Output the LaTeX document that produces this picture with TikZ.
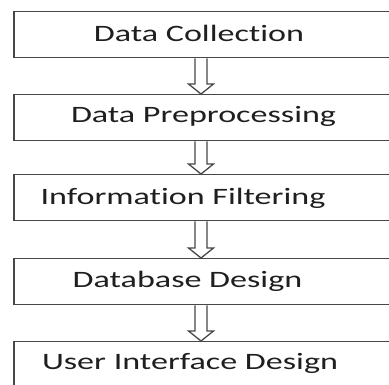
\documentclass[tikz,border=0pt]{standalone}
\usepackage{fontspec}
\usepackage{graphicx}
\setmainfont{Carlito}[Ligatures={NoCommon}]
\usetikzlibrary{calc}

\tikzset{
  stage/.style={draw=black!72, line width=1.5pt, rectangle, inner sep=0pt,
    fill=white},
  stagetext/.style={anchor=base, inner sep=0pt, text=black!88,
    font=\fontsize{23.5}{26}\selectfont},
  flowarrow/.style={draw=black!72, line width=1.3pt, fill=white,
    line join=miter},
}
\newcommand{\wide}[1]{\scalebox{1.45}[1]{#1}}

\begin{document}
\begin{tikzpicture}[x=1pt,y=-1pt]
  \useasboundingbox (0,0) rectangle (389,385);
  \clip (0,0) rectangle (389,385);
  \fill[white] (0,0) rectangle (389,385);

  % column of the connecting arrows
  \coordinate (ax) at (201,0);

  % stage boxes (they run past the right edge)
  \node[stage, minimum width=390pt, minimum height=46pt, anchor=north west] (b1) at (13,11) {};
  \node[stage, minimum width=390pt, minimum height=46pt, anchor=north west] (b2) at (13,94) {};
  \node[stage, minimum width=390pt, minimum height=46pt, anchor=north west] (b3) at (13,174) {};
  \node[stage, minimum width=390pt, minimum height=46pt, anchor=north west] (b4) at (13,258) {};
  \node[stage, minimum width=390pt, minimum height=60pt, anchor=north west] (b5) at (13,341) {};

  % stage labels
  \node[stagetext] (t1) at (199,42)   {\wide{Data Collection}};
  \node[stagetext] (t2) at (203.5,123) {\wide{Data Preprocessing}};
  \node[stagetext] (t3) at (183,205)  {\wide{Information Filtering}};
  \node[stagetext] (t4) at (187.5,288) {\wide{Database Design}};
  \node[stagetext] (t5) at (190,370)  {\wide{User Interface Design}};

  % hollow block arrows between consecutive stages
  \foreach \a/\b in {b1/b2, b2/b3, b3/b4, b4/b5}{
    \coordinate (s) at (\a.south -| ax);
    \coordinate (e) at (\b.north -| ax);
    \draw[flowarrow]
      ([xshift=-6pt]s) -- ([xshift=-6pt,yshift=10pt]e)
      -- ([xshift=-12.5pt,yshift=10pt]e) -- (e)
      -- ([xshift=12.5pt,yshift=10pt]e) -- ([xshift=6pt,yshift=10pt]e)
      -- ([xshift=6pt]s);
  }
\end{tikzpicture}
\end{document}
